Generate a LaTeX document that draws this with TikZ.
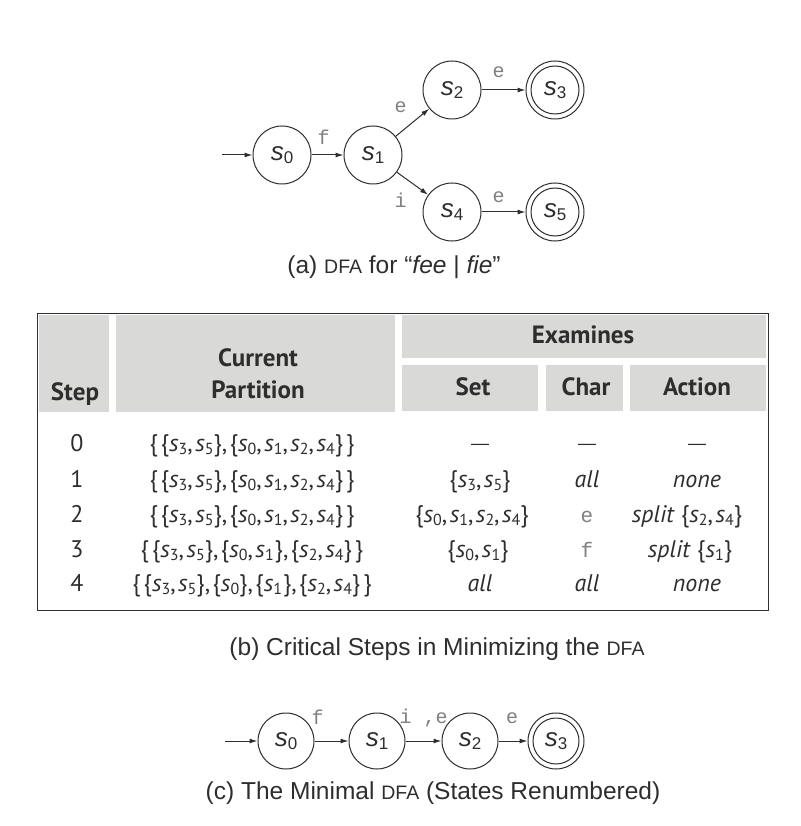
\documentclass[tikz,border=0pt]{standalone}
\usepackage{fontspec}
\setmainfont{Liberation Sans}
\newfontfamily\monof{Liberation Mono}
\newfontfamily\tbf{PT Sans}
\usetikzlibrary{arrows.meta}
\definecolor{ink}{HTML}{2E2E2E}
\definecolor{hdr}{HTML}{D9D9D7}
\definecolor{lblc}{HTML}{808080}
\newcommand\stl[1]{{\fontsize{26}{26}\selectfont\textit{s}\raisebox{-3.5pt}{\fontsize{17}{17}\selectfont#1}}}
\newcommand\ts[1]{\textit{s}\raisebox{-0.3ex}{\fontsize{16}{16}\selectfont #1}}
\newcommand\cm{,\kern2.5pt}
\newcommand\dsh{{\rmfamily\fontsize{18}{18}\selectfont\textemdash}}
\newcommand\dfa{{\fontsize{19.5}{19.5}\selectfont DFA}}
\begin{document}
\begin{tikzpicture}[x=1pt,y=-1pt,
  state/.style={circle,draw=ink,line width=1pt,minimum size=58pt,inner sep=0pt,text=ink},
  sstate/.style={state,minimum size=56pt},
  edge/.style={draw=ink,line width=1pt,-{Latex[length=8pt,width=5pt]}},
  lbl/.style={font=\monof\fontsize{20}{20}\selectfont,text=lblc,inner sep=0pt,anchor=center},
  captxt/.style={font=\fontsize{24.5}{24.5}\selectfont,text=ink},
  hcell/.style={fill=hdr,draw=none},
  htxt/.style={font=\tbf\bfseries\fontsize{25}{25}\selectfont,text=ink,anchor=base},
  btxt/.style={font=\tbf\fontsize{24}{24}\selectfont,text=ink,anchor=base},
  ctxt/.style={font=\monof\fontsize{21}{21}\selectfont,text=lblc,anchor=base}]
\useasboundingbox (0,0) rectangle (800,826);
\fill[white] (0,0) rectangle (800,826);

% ---------- (a) DFA ----------
\coordinate (a0) at (222,155);
\node[state] (s0) at (282,155) {\stl0};
\node[state] (s1) at (373,155) {\stl1};
\node[state] (s2) at (452,90) {\stl2};
\node[state] (s3) at (555,90) {\stl3};
\node[state] (s4) at (452,212) {\stl4};
\node[state] (s5) at (555,212) {\stl5};
\draw[draw=ink,line width=1pt] (s3.center) circle (24);
\draw[draw=ink,line width=1pt] (s5.center) circle (24);
\draw[edge] (a0) -- (s0);
\draw[edge] (s0) -- node[lbl,xshift=-4pt,yshift=18pt] {f} (s1);
\draw[edge] (s1) -- node[lbl,xshift=-12pt,yshift=15pt] {e} (s2);
\draw[edge] (s1) -- node[lbl,xshift=-12pt,yshift=-17pt] {i} (s4);
\draw[edge] (s2) -- node[lbl,xshift=-5pt,yshift=18pt] {e} (s3);
\draw[edge] (s4) -- node[lbl,xshift=-5pt,yshift=15pt] {e} (s5);
\node[captxt] (capa) at (394,267) {(a) \dfa{} for \textquotedblleft\textit{fee} | \textit{fie}\textquotedblright};

% ---------- (b) table ----------
\node[hcell,minimum width=70pt,minimum height=97pt,anchor=north west] (hstep) at (39,315) {};
\node[hcell,minimum width=279pt,minimum height=97pt,anchor=north west] (hpart) at (116,315) {};
\node[hcell,minimum width=364pt,minimum height=43pt,anchor=north west] (hexam) at (402,315) {};
\node[hcell,minimum width=136pt,minimum height=46pt,anchor=north west] (hset) at (402,365) {};
\node[hcell,minimum width=77pt,minimum height=46pt,anchor=north west] (hchar) at (546,365) {};
\node[hcell,minimum width=136pt,minimum height=46pt,anchor=north west] (hact) at (630,365) {};
\node[draw=ink,line width=1.2pt,minimum width=731pt,minimum height=297pt,anchor=north west] (tbl) at (37,313) {};

\node[htxt] (tstep) at (75,400) {Step};
\node[htxt] (tcur) at (258,366) {Current};
\node[htxt] (tpart) at (258,398) {Partition};
\node[htxt] (texam) at (583,343) {Examines};
\node[htxt] (tset) at (473,395) {Set};
\node[htxt] (tchar) at (586,395) {Char};
\node[htxt] (tact) at (697,395) {Action};

% rows (baselines)
\node[btxt] (n0) at (77,451) {0};
\node[btxt] (n1) at (77,487) {1};
\node[btxt] (n2) at (77,522) {2};
\node[btxt] (n3) at (77,557) {3};
\node[btxt] (n4) at (77,591) {4};

\node[btxt] (p0) at (252,451) {\{\kern3pt\{\ts3\cm\ts5\}\cm\{\ts0\cm\ts1\cm\ts2\cm\ts4\}\kern3pt\}};
\node[btxt] (p1) at (252,487) {\{\kern3pt\{\ts3\cm\ts5\}\cm\{\ts0\cm\ts1\cm\ts2\cm\ts4\}\kern3pt\}};
\node[btxt] (p2) at (252,522) {\{\kern3pt\{\ts3\cm\ts5\}\cm\{\ts0\cm\ts1\cm\ts2\cm\ts4\}\kern3pt\}};
\node[btxt] (p3) at (252,557) {\{\kern3pt\{\ts3\cm\ts5\}\cm\{\ts0\cm\ts1\kern1pt\}\cm\{\ts2\cm\ts4\}\kern3pt\}};
\node[btxt] (p4) at (252,591) {\{\kern3pt\{\ts3\cm\ts5\}\cm\{\ts0\}\cm\{\ts1\kern1pt\}\cm\{\ts2\cm\ts4\}\kern3pt\}};

\node[btxt] (e0) at (480,449) {\dsh};
\node[btxt] (e1) at (480,487) {\{\ts3\cm\ts5\}};
\node[btxt] (e2) at (472,522) {\{\ts0\cm\ts1\cm\ts2\cm\ts4\}};
\node[btxt] (e3) at (478,557) {\{\ts0\cm\ts1\}};
\node[btxt] (e4) at (480,591) {\textit{all}};

\node[btxt] (c0) at (587,449) {\dsh};
\node[btxt] (c1) at (587,487) {\textit{all}};
\node[ctxt] (c2) at (587,522) {e};
\node[ctxt] (c3) at (587,557) {f};
\node[btxt] (c4) at (587,591) {\textit{all}};

\node[btxt] (x0) at (697,449) {\dsh};
\node[btxt] (x1) at (697,487) {\textit{none}};
\node[btxt] (x2) at (687,522) {\textit{split} \{\ts2\cm\ts4\}};
\node[btxt] (x3) at (690,557) {\textit{split} \{\ts1\}};
\node[btxt] (x4) at (697,591) {\textit{none}};

\node[captxt] (capb) at (437,649) {(b) Critical Steps in Minimizing the \dfa};

% ---------- (c) minimal DFA ----------
\coordinate (b0) at (225,741);
\node[sstate] (m0) at (286,741) {\stl0};
\node[sstate] (m1) at (377,741) {\stl1};
\node[sstate] (m2) at (470,741) {\stl2};
\node[sstate] (m3) at (556,741) {\stl3};
\draw[draw=ink,line width=1pt] (m3.center) circle (23);
\draw[edge] (b0) -- (m0);
\draw[edge] (m0) -- node[lbl,xshift=-14pt,yshift=24pt] {f} (m1);
\draw[edge] (m1) -- node[lbl,xshift=0pt,yshift=23pt] {i ,e} (m2);
\draw[edge] (m2) -- node[lbl,xshift=-1pt,yshift=23pt] {e} (m3);
\node[captxt] (capc) at (433,793) {(c) The Minimal \dfa{} (States Renumbered)};
\end{tikzpicture}
\end{document}
